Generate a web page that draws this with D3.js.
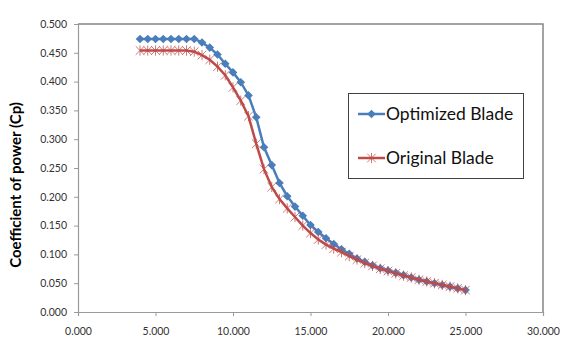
<!DOCTYPE html>
<html><head><meta charset="utf-8">
<script src="https://cdn.jsdelivr.net/npm/d3@7"></script>
<style>body{margin:0;background:#fff}svg{display:block}</style>
</head><body>
<script>
const xValues = [4,4.5,5,5.5,6,6.5,7,7.5,8,8.5,9,9.5,10,10.5,11,11.5,12,12.5,13,13.5,14,14.5,15,15.5,16,16.5,17,17.5,18,18.5,19,19.5,20,20.5,21,21.5,22,22.5,23,23.5,24,24.5,25];
const optimized = [0.474,0.474,0.474,0.474,0.474,0.474,0.474,0.474,0.468,0.459,0.447,0.431,0.416,0.399,0.376,0.338,0.286,0.255,0.224,0.201,0.183,0.167,0.151,0.139,0.128,0.118,0.109,0.101,0.093,0.087,0.081,0.076,0.072,0.068,0.064,0.060,0.056,0.053,0.050,0.047,0.044,0.041,0.038];
const original = [0.454,0.454,0.454,0.454,0.454,0.454,0.454,0.452,0.446,0.438,0.426,0.411,0.390,0.367,0.340,0.292,0.248,0.217,0.196,0.180,0.165,0.150,0.137,0.126,0.117,0.110,0.104,0.097,0.091,0.085,0.080,0.075,0.071,0.067,0.063,0.060,0.056,0.053,0.050,0.047,0.044,0.041,0.038];
const xTicks = [0,5,10,15,20,25,30];
const yTicks = [0,0.05,0.1,0.15,0.2,0.25,0.3,0.35,0.4,0.45,0.5];
const seriesNames = ["Optimized Blade","Original Blade"];
const colors = ["#4A7EBB","#BE4B48"];
const yTitle = "Coefficient of power (Cp)";

const W = 569, H = 348;
const svg = d3.select("body").append("svg").attr("width", W).attr("height", H);
const x = d3.scaleLinear().domain([0,30]).range([78,543]);
const y = d3.scaleLinear().domain([0,0.5]).range([312,24]);
const fmt = d3.format(".3f");
const font = "Lato, 'Open Sans', sans-serif";

// plot frame top/right
svg.append("path").attr("d", `M${x(0)},${y(0.5)}H${x(30)}V${y(0)}`)
  .attr("fill","none").attr("stroke","#858585").attr("stroke-width",1.5);

const xAxis = svg.append("g").attr("transform",`translate(0,${y(0)})`)
  .call(d3.axisBottom(x).tickValues(xTicks).tickFormat(fmt).tickSizeOuter(0).tickSize(4).tickPadding(12));
const yAxis = svg.append("g").attr("transform",`translate(${x(0)},0)`)
  .call(d3.axisLeft(y).tickValues(yTicks).tickFormat(fmt).tickSizeOuter(0).tickSize(4).tickPadding(7));
[xAxis,yAxis].forEach(g=>{
  g.select(".domain").attr("stroke","#9a9a9a").attr("stroke-width",1.2);
  g.selectAll(".tick line").attr("stroke","#9a9a9a");
  g.selectAll("text").attr("font-family",font).attr("font-size","10.5px").attr("fill","#333");
});

svg.append("text").attr("transform","translate(21,185) rotate(-90)")
  .attr("text-anchor","middle").attr("font-family",font).attr("font-weight","bold")
  .attr("font-size","15px").attr("fill","#000").text(yTitle);

const line = d3.line().x((d,i)=>x(xValues[i])).y(d=>y(d));

function star(g, cx, cy, c){
  const r = 4.3;
  g.append("path").attr("d",
    `M${cx-r},${cy-r}L${cx+r},${cy+r}M${cx-r},${cy+r}L${cx+r},${cy-r}M${cx},${cy-r-0.8}V${cy+r+0.8}`)
    .attr("stroke",c).attr("stroke-width",1).attr("opacity",0.75).attr("fill","none");
}
function diamond(g, cx, cy, c){
  const r = 4.3;
  g.append("path").attr("d",`M${cx},${cy-r}L${cx+r},${cy}L${cx},${cy+r}L${cx-r},${cy}Z`).attr("fill",c);
}

const gB = svg.append("g"), gR = svg.append("g");
gB.append("path").datum(optimized).attr("d",line).attr("fill","none").attr("stroke",colors[0]).attr("stroke-width",2.5);
optimized.forEach((v,i)=>diamond(gB, x(xValues[i]), y(v), colors[0]));
gR.append("path").datum(original).attr("d",line).attr("fill","none").attr("stroke",colors[1]).attr("stroke-width",2.5);
original.forEach((v,i)=>star(gR, x(xValues[i]), y(v), colors[1]));

// legend
const lg = svg.append("g");
lg.append("rect").attr("x",348.5).attr("y",93.5).attr("width",175).attr("height",85)
  .attr("fill","#fff").attr("stroke","#404040").attr("stroke-width",1);
const ly = [114,158];
seriesNames.forEach((n,i)=>{
  lg.append("line").attr("x1",358).attr("x2",385).attr("y1",ly[i]).attr("y2",ly[i])
    .attr("stroke",colors[i]).attr("stroke-width",2.5);
  if(i===0) diamond(lg,371.5,ly[i],colors[i]); else star(lg,371.5,ly[i],colors[i]);
  lg.append("text").attr("x",386).attr("y",ly[i]).attr("dy","0.35em")
    .attr("font-family",font).attr("font-size","17.5px").attr("fill","#111").text(n);
});
</script>
</body></html>
